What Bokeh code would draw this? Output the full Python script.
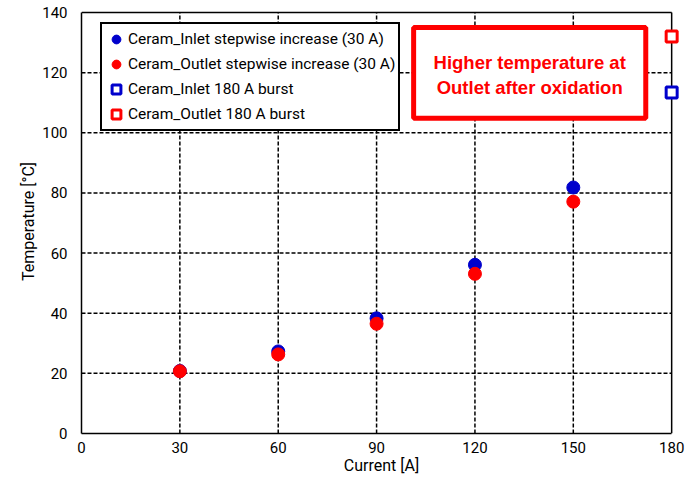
from bokeh.plotting import figure
from bokeh.models import (Legend, LegendItem, Range1d, FixedTicker, BoxAnnotation, Label)
from bokeh.embed import file_html
from bokeh.resources import INLINE

# ---- data ----
current = [30, 60, 90, 120, 150]
inlet_step = [20.8, 27.3, 38.3, 56.1, 81.8]
outlet_step = [20.7, 26.3, 36.5, 53.1, 77.1]
burst_current = [180]
inlet_burst = [113.4]
outlet_burst = [132.0]
x_ticks = [0, 30, 60, 90, 120, 150, 180]
y_ticks = [0, 20, 40, 60, 80, 100, 120, 140]

BLUE = "#0000CC"
RED = "#FF0000"
TICK_FONT = "Roboto"

x_max = x_ticks[-1]
y_max = y_ticks[-1]

p = figure(frame_width=600, frame_height=424,
           x_range=Range1d(0, 183), y_range=Range1d(0, 141),
           output_backend="svg", toolbar_location=None,
           min_border_left=81, min_border_top=9, min_border_right=8, min_border_bottom=50,
           background_fill_color="white", border_fill_color="white")
p.outline_line_color = None
p.xgrid.visible = False
p.ygrid.visible = False

# manual grid / frame
grid_y = y_ticks[1:-1]
grid_x = x_ticks[1:-1]
p.segment(x0=[0] * len(grid_y), x1=[x_max] * len(grid_y), y0=grid_y, y1=grid_y,
          line_color="black", line_width=1.5, line_dash="4 2")
p.segment(x0=grid_x, x1=grid_x, y0=[0] * len(grid_x), y1=[y_max] * len(grid_x),
          line_color="black", line_width=1.5, line_dash="4 2")
p.segment(x0=[0, x_max], x1=[x_max, x_max], y0=[y_max, 0], y1=[y_max, y_max],
          line_color="black", line_width=1.5)

# axes
for ax in (p.xaxis[0], p.yaxis[0]):
    ax.major_tick_in = 0
    ax.major_tick_out = 0
    ax.minor_tick_in = 0
    ax.minor_tick_out = 0
    ax.axis_line_color = "black"
    ax.axis_line_width = 1.5
    ax.major_label_text_font = TICK_FONT
    ax.major_label_text_font_size = "15px"
    ax.major_label_text_color = "black"
    ax.axis_label_text_font = TICK_FONT
    ax.axis_label_text_font_size = "16px"
    ax.axis_label_text_font_style = "normal"
    ax.axis_label_text_color = "black"
p.xaxis.ticker = FixedTicker(ticks=x_ticks)
p.yaxis.ticker = FixedTicker(ticks=y_ticks)
p.xaxis.bounds = (0, x_max)
p.yaxis.bounds = (0, y_max)
p.xaxis.axis_label = "Current [A]"
p.yaxis.axis_label = "Temperature [°C]"
p.xaxis.major_label_standoff = 8
p.xaxis.axis_label_standoff = 0
p.yaxis.major_label_standoff = 14
p.yaxis.axis_label_standoff = 1

# data
r1 = p.scatter(current, inlet_step, size=13, marker="circle", color=BLUE)
r2 = p.scatter(current, outlet_step, size=13, marker="circle", color=RED)
r3 = p.scatter(burst_current, inlet_burst, size=11, marker="square",
               fill_color="white", line_color=BLUE, line_width=3)
r4 = p.scatter(burst_current, outlet_burst, size=11, marker="square",
               fill_color="white", line_color=RED, line_width=3)

legend = Legend(items=[
    LegendItem(label="Ceram_Inlet stepwise increase (30 A)", renderers=[r1]),
    LegendItem(label="Ceram_Outlet stepwise increase (30 A)", renderers=[r2]),
    LegendItem(label="Ceram_Inlet 180 A burst", renderers=[r3]),
    LegendItem(label="Ceram_Outlet 180 A burst", renderers=[r4]),
], location=(19, 302))
legend.label_text_font = TICK_FONT
legend.label_text_font_size = "15.5px"
legend.label_text_color = "black"
legend.label_height = 24
legend.glyph_height = 24
legend.glyph_width = 22
legend.label_standoff = 1
legend.spacing = 1
legend.padding = 3
legend.margin = 0
legend.border_line_color = "black"
legend.border_line_alpha = 1
legend.border_line_width = 2
legend.background_fill_color = "white"
legend.background_fill_alpha = 1
p.add_layout(legend, "center")

# annotation box
box = BoxAnnotation(left=101.3, right=172.1, top=135.0, bottom=104.8,
                    fill_color="white", fill_alpha=1, line_color=RED, line_alpha=1,
                    line_width=5)
p.add_layout(box)
for txt, yy in (("Higher temperature at", 123.4), ("Outlet after oxidation", 115.1)):
    p.add_layout(Label(x=136.7, y=yy, text=txt, text_align="center", text_baseline="middle",
                       text_font="Liberation Sans", text_font_style="bold",
                       text_font_size="18.5px", text_color=RED))

open("out.html", "w").write(file_html(p, INLINE))
